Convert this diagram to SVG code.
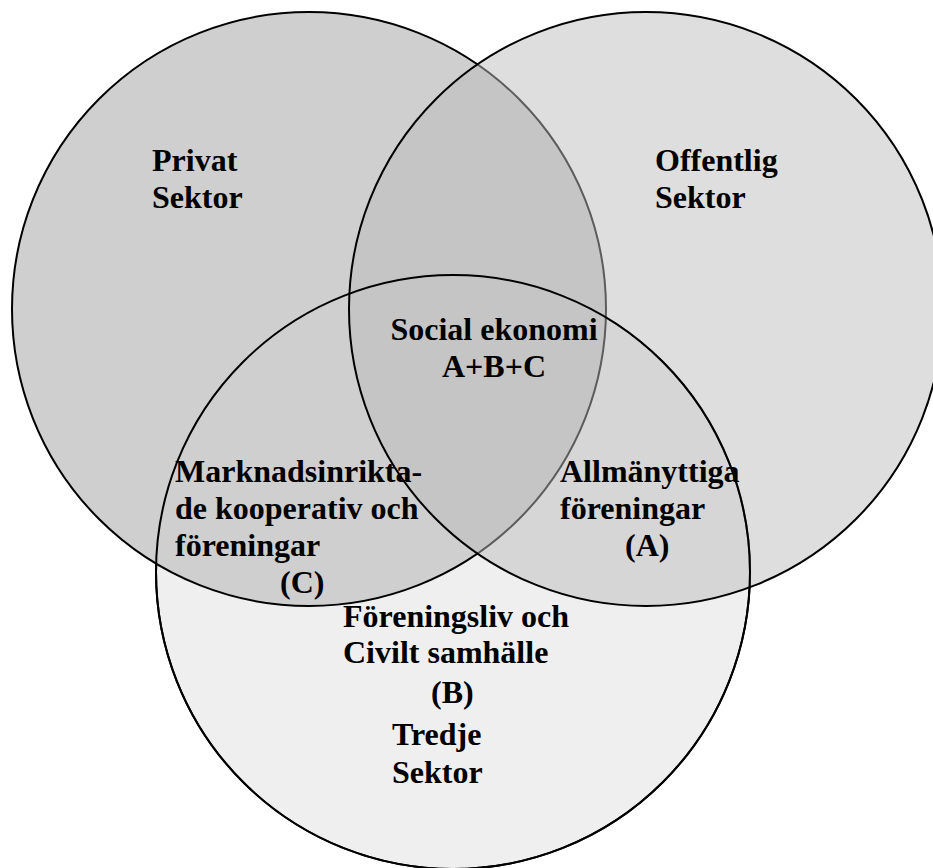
<svg xmlns="http://www.w3.org/2000/svg" width="933" height="868" viewBox="0 0 933 868">
  <style>
    .lbl { font-family: "Liberation Serif", "Times New Roman", serif; font-weight: bold; font-size: 32px; fill: #000; }
    .ring { stroke: #000; stroke-width: 2; }
  </style>
  <rect width="933" height="868" fill="#fff"/>
  <g id="tredje-sektor">
    <circle class="ring" cx="453" cy="572" r="297" fill="#efefef"/>
  </g>
  <g id="privat-sektor">
    <circle class="ring" cx="309" cy="309" r="297" fill="#cfcfcf"/>
  </g>
  <g id="offentlig-sektor">
    <circle cx="646" cy="309" r="297" fill="#bcbcbc" fill-opacity="0.49" stroke="none"/>
    <circle class="ring" cx="646" cy="309" r="297" fill="none"/>
  </g>
  <g id="tredje-sektor-outline">
    <circle class="ring" cx="453" cy="572" r="297" fill="none"/>
  </g>
  <g id="labels">
    <g id="label-privat">
      <text class="lbl" x="152" y="171">Privat</text>
      <text class="lbl" x="152" y="208">Sektor</text>
    </g>
    <g id="label-offentlig">
      <text class="lbl" x="655" y="171">Offentlig</text>
      <text class="lbl" x="655" y="208">Sektor</text>
    </g>
    <g id="label-social">
      <text class="lbl" x="494" y="340" text-anchor="middle">Social ekonomi</text>
      <text class="lbl" x="494" y="377" text-anchor="middle">A+B+C</text>
    </g>
    <g id="label-c">
      <text class="lbl" x="175" y="482">Marknadsinrikta-</text>
      <text class="lbl" x="175" y="519">de kooperativ och</text>
      <text class="lbl" x="175" y="556">föreningar</text>
      <text class="lbl" x="280" y="593">(C)</text>
    </g>
    <g id="label-a">
      <text class="lbl" x="560" y="482">Allmänyttiga</text>
      <text class="lbl" x="560" y="519">föreningar</text>
      <text class="lbl" x="625" y="556">(A)</text>
    </g>
    <g id="label-b">
      <text class="lbl" x="343" y="627">Föreningsliv och</text>
      <text class="lbl" x="343" y="663">Civilt samhälle</text>
      <text class="lbl" x="431" y="703">(B)</text>
    </g>
    <g id="label-tredje">
      <text class="lbl" x="392" y="745">Tredje</text>
      <text class="lbl" x="392" y="783">Sektor</text>
    </g>
  </g>
</svg>
